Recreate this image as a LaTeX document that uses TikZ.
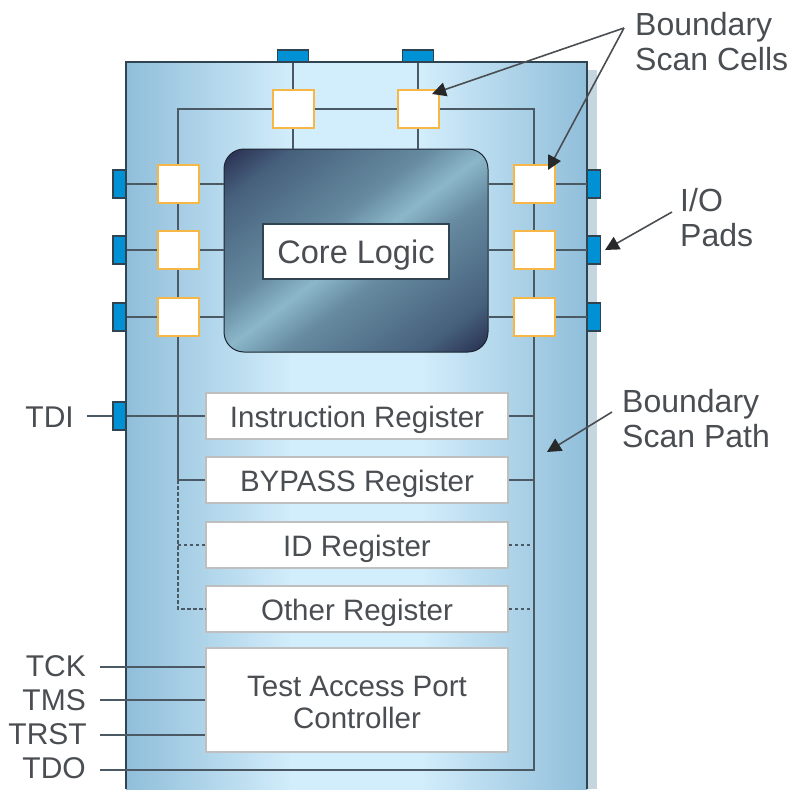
\documentclass[tikz,border=0pt]{standalone}
\usepackage{fontspec}
\setmainfont{Liberation Sans}
\usetikzlibrary{arrows.meta}
\definecolor{chipA}{HTML}{90BEDA}
\definecolor{chipB}{HTML}{D2EDFB}
\definecolor{wirec}{HTML}{4A5964}
\definecolor{edgec}{HTML}{2F4350}
\definecolor{txtc}{HTML}{4A4E52}
\definecolor{headc}{HTML}{26282A}
\definecolor{coreA}{HTML}{2C3154}
\definecolor{coreB}{HTML}{46607C}
\definecolor{coreM}{HTML}{668AA0}
\definecolor{coreC}{HTML}{8BB7C9}
\definecolor{coreD}{HTML}{2A3353}
\definecolor{padc}{HTML}{0090D4}
\definecolor{cellc}{HTML}{F6B746}
\definecolor{shadowc}{HTML}{C6D6E0}
\pgfdeclarehorizontalshading{chipshade}{100bp}{
  color(0bp)=(chipA); color(25bp)=(chipA);
  color(43bp)=(chipB); color(57bp)=(chipB);
  color(75bp)=(chipA); color(100bp)=(chipA)}
\pgfdeclarehorizontalshading{coreshade}{100bp}{
  color(0bp)=(coreA); color(16bp)=(coreA); color(24bp)=(coreB); color(42bp)=(coreM); color(50bp)=(coreC);
  color(58bp)=(coreM); color(76bp)=(coreB); color(84bp)=(coreD); color(100bp)=(coreD)}
\tikzset{
  wire/.style={draw=wirec,line width=1.8pt},
  dashwire/.style={draw=wirec,line width=1.8pt,dash pattern=on 3.5pt off 2.5pt},
  callout/.style={draw=txtc,line width=1.6pt,-{Triangle[length=14pt,width=14pt,color=headc]}},
  cell/.style={draw=cellc,fill=white,line width=2pt,inner sep=0pt,minimum width=41pt,minimum height=38pt},
  hpad/.style={draw=edgec,fill=padc,line width=1.5pt,inner sep=0pt,minimum width=31pt,minimum height=12pt},
  vpad/.style={draw=edgec,fill=padc,line width=1.5pt,inner sep=0pt,minimum width=13pt,minimum height=28pt},
  reg/.style={draw=black!25,fill=white,line width=1.5pt,inner sep=0pt,minimum width=302pt,minimum height=46pt,text=txtc,font=\fontsize{29.5}{32}\selectfont,align=center},
  lab/.style={text=txtc,font=\fontsize{30}{34}\selectfont,inner sep=0pt},
  call/.style={text=txtc,font=\fontsize{32}{35}\selectfont,inner sep=0pt,align=left,anchor=west}
}
\newcommand{\lowered}[2][4pt]{\raisebox{-#1}[\height][\depth]{#2}}
\begin{document}
\begin{tikzpicture}[x=1pt,y=-1pt]
\useasboundingbox (0,0) rectangle (791,789);
% chip body
\node[fill=shadowc,inner sep=0pt,minimum width=12pt,minimum height=719pt] (shadow) at (591,429.5) {};
\node[shading=chipshade,inner sep=0pt,minimum width=461pt,minimum height=727pt] (chip) at (356.5,425.5) {};
\draw[draw=edgec,line width=1.8pt] (chip.south west) -- (chip.north west) -- (chip.north east) -- (chip.south east);
% core
\node[shading=coreshade,shading angle=-53,draw=black!60!coreB,line width=1pt,rounded corners=20pt,inner sep=0pt,minimum width=264pt,minimum height=203pt] (core) at (356,250.5) {};
\node[draw=edgec,fill=white,line width=1.2pt,inner sep=0pt,minimum width=186pt,minimum height=55pt,text=txtc,font=\fontsize{32.5}{34}\selectfont] (corelogic) at (356,251.5) {\lowered{Core Logic}};
% pads
\node[hpad] (pt1) at (293,56) {};
\node[hpad] (pt2) at (418,56) {};
\node[vpad] (pl1) at (119.5,184) {};
\node[vpad] (pl2) at (119.5,250) {};
\node[vpad] (pl3) at (119.5,317) {};
\node[vpad] (pdi) at (119.5,416) {};
\node[vpad] (pr1) at (594,184) {};
\node[vpad] (pr2) at (594,250) {};
\node[vpad] (pr3) at (594,317) {};
% cells
\node[cell] (ct1) at (293,109) {};
\node[cell] (ct2) at (418,109) {};
\node[cell] (cl1) at (178,184) {};
\node[cell] (cl2) at (178,250) {};
\node[cell] (cl3) at (178,317) {};
\node[cell] (cr1) at (534,184) {};
\node[cell] (cr2) at (534,250) {};
\node[cell] (cr3) at (534,317) {};
% registers
\node[reg] (ir) at (357,416) {\lowered{Instruction Register}};
\node[reg] (by) at (357,480) {\lowered{BYPASS Register}};
\node[reg] (idr) at (357,545) {\lowered{ID Register}};
\node[reg] (oth) at (357,609) {\lowered{Other Register}};
\node[reg,minimum height=104pt] (tap) at (357,700) {\lowered[2pt]{Test Access Port}\\\lowered[2pt]{Controller}};
% signal labels
\node[lab,anchor=east] (ltdi) at (74,417) {TDI};
\node[lab,anchor=east] (ltck) at (86,666) {TCK};
\node[lab,anchor=east] (ltms) at (86,700) {TMS};
\node[lab,anchor=east] (ltrst) at (87,734) {TRST};
\node[lab,anchor=east] (ltdo) at (86,768) {TDO};
% callout labels
\node[call] (lcells) at (635,42) {Boundary\\Scan Cells};
\node[call] (lpads) at (680,218) {I/O\\Pads};
\node[call] (lpath) at (622,419) {Boundary\\Scan Path};
\coordinate (ftdo) at (100,770);
\coordinate (ca) at (624,28);
\coordinate (cb) at (672,212);
\coordinate (cc) at (612,412);
\coordinate (tcellt) at (432,94);
\coordinate (tcellr) at (548,170);
\coordinate (tpad) at (605,250);
\coordinate (tpath) at (547,452);
\coordinate (ftdi) at (87,416);
\coordinate (ftck) at (100,667);
\coordinate (ftms) at (100,700);
\coordinate (ftrst) at (100,735);
% scan rail, top
\draw[wire] (cl1.north) |- (ct1.west);
\draw[wire] (ct1.east) -- (ct2.west);
\draw[wire] (ct2.east) -| (cr1.north);
\draw[wire] (pt1.south) -- (ct1.north);
\draw[wire] (pt2.south) -- (ct2.north);
\draw[wire] (ct1.south) -- (ct1.south |- core.north);
\draw[wire] (ct2.south) -- (ct2.south |- core.north);
% left and right cells
\foreach \c/\p in {cl1/pl1,cl2/pl2,cl3/pl3}{
  \draw[wire] (\p.east) -- (\c.west);
  \draw[wire] (\c.east) -- (\c.east -| core.west);
}
\foreach \c/\p in {cr1/pr1,cr2/pr2,cr3/pr3}{
  \draw[wire] (\c.east) -- (\p.west);
  \draw[wire] (\c.west) -- (\c.west -| core.east);
}
\draw[wire] (cl1.south) -- (cl2.north);
\draw[wire] (cl2.south) -- (cl3.north);
\draw[wire] (cr1.south) -- (cr2.north);
\draw[wire] (cr2.south) -- (cr3.north);
% left bus
\draw[wire] (cl3.south) |- (by.west);
\draw[dashwire] (by.west -| cl3.south) |- (oth.west);
\draw[dashwire] (idr.west) -- (idr.west -| cl3.south);
% right bus and TDO
\draw[wire] (cr3.south) |- (ftdo);
\draw[wire] (ir.east) -- (ir.east -| cr3.south);
\draw[wire] (by.east) -- (by.east -| cr3.south);
\draw[dashwire] (idr.east) -- (idr.east -| cr3.south);
\draw[dashwire] (oth.east) -- (oth.east -| cr3.south);
% TDI and controller inputs
\draw[wire] (pdi.east) -- (ir.west);
\draw[wire] (ftdi) -- (pdi.west);
\draw[wire] (ftck) -- (ftck -| tap.west);
\draw[wire] (ftms) -- (ftms -| tap.west);
\draw[wire] (ftrst) -- (ftrst -| tap.west);
% callouts
\draw[callout] (ca) -- (tcellt);
\draw[callout] (ca) -- (tcellr);
\draw[callout] (cb) -- (tpad);
\draw[callout] (cc) -- (tpath);
\end{tikzpicture}
\end{document}
